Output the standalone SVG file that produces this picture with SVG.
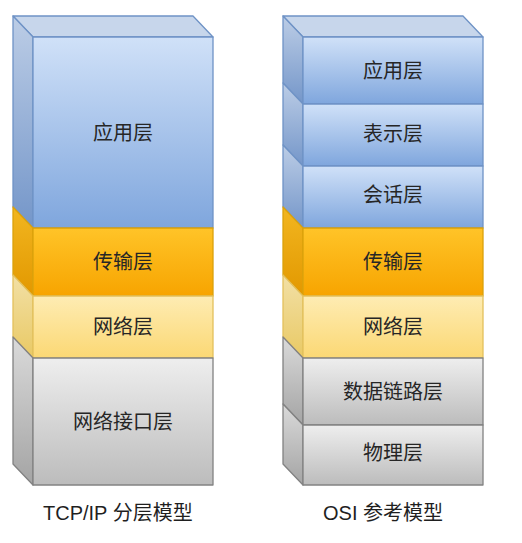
<svg xmlns="http://www.w3.org/2000/svg" width="522" height="543" viewBox="0 0 522 543">
<defs>
<linearGradient id="bF" x1="0" y1="0" x2="0" y2="1"><stop offset="0" stop-color="#d0e1f8"/><stop offset="1" stop-color="#7fa6dd"/></linearGradient>
<linearGradient id="bS" x1="0" y1="0" x2="0" y2="1"><stop offset="0" stop-color="#bccde6"/><stop offset="1" stop-color="#7496c9"/></linearGradient>
<linearGradient id="oF" x1="0" y1="0" x2="0" y2="1"><stop offset="0" stop-color="#ffc428"/><stop offset="1" stop-color="#f7a400"/></linearGradient>
<linearGradient id="oS" x1="0" y1="0" x2="0" y2="1"><stop offset="0" stop-color="#f2b620"/><stop offset="1" stop-color="#e29800"/></linearGradient>
<linearGradient id="yF" x1="0" y1="0" x2="0" y2="1"><stop offset="0" stop-color="#feecb3"/><stop offset="1" stop-color="#fbd874"/></linearGradient>
<linearGradient id="yS" x1="0" y1="0" x2="0" y2="1"><stop offset="0" stop-color="#f2e0a6"/><stop offset="1" stop-color="#e9c964"/></linearGradient>
<linearGradient id="gF" x1="0" y1="0" x2="0" y2="1"><stop offset="0" stop-color="#eeeeee"/><stop offset="1" stop-color="#bcbcbc"/></linearGradient>
<linearGradient id="gS" x1="0" y1="0" x2="0" y2="1"><stop offset="0" stop-color="#dadada"/><stop offset="1" stop-color="#a4a4a4"/></linearGradient>
</defs>
<style>
.b{stroke:#6f93c6;stroke-width:1.3;stroke-linejoin:round}
.o{stroke:#daa10c;stroke-width:1.3;stroke-linejoin:round}
.y{stroke:#e3c05c;stroke-width:1.3;stroke-linejoin:round}
.g{stroke:#828282;stroke-width:1.3;stroke-linejoin:round}
.bf{fill:url(#bF)}.bs{fill:url(#bS)}.bt{fill:#c7d6eb}
.of{fill:url(#oF)}.os{fill:url(#oS)}
.yf{fill:url(#yF)}.ys{fill:url(#yS)}
.gf{fill:url(#gF)}.gs{fill:url(#gS)}
text{font-family:"Liberation Sans","Noto Sans CJK SC",sans-serif;font-size:20px;fill:#262626;text-anchor:middle;dominant-baseline:central}
.cap{text-anchor:start;dominant-baseline:alphabetic;fill:#1f1f1f}
</style>

<g id="tcp-app">
<polygon class="b bt" points="13,16 193,16 213,37 33,37"/>
<polygon class="b bs" points="13,16 33,37 33,228 13,207"/>
<rect class="b bf" x="33" y="37" width="180" height="191"/>
<text x="123" y="133">应用层</text>
</g>
<g id="tcp-transport">
<polygon class="o os" points="13,207 33,228 33,296 13,275"/>
<rect class="o of" x="33" y="228" width="180" height="68"/>
<text x="123" y="262">传输层</text>
</g>
<g id="tcp-network">
<polygon class="y ys" points="13,275 33,296 33,358 13,337"/>
<rect class="y yf" x="33" y="296" width="180" height="62"/>
<text x="123" y="327">网络层</text>
</g>
<g id="tcp-link">
<polygon class="g gs" points="13,337 33,358 33,485 13,464"/>
<rect class="g gf" x="33" y="358" width="180" height="127"/>
<text x="123" y="422">网络接口层</text>
</g>

<g id="osi-app">
<polygon class="b bt" points="283,16 463,16 483,37 303,37"/>
<polygon class="b bs" points="283,16 303,37 303,104 283,83"/>
<rect class="b bf" x="303" y="37" width="180" height="67"/>
<text x="393" y="71">应用层</text>
</g>
<g id="osi-presentation">
<polygon class="b bs" points="283,83 303,104 303,166 283,145"/>
<rect class="b bf" x="303" y="104" width="180" height="62"/>
<text x="393" y="134">表示层</text>
</g>
<g id="osi-session">
<polygon class="b bs" points="283,145 303,166 303,228 283,207"/>
<rect class="b bf" x="303" y="166" width="180" height="62"/>
<text x="393" y="195">会话层</text>
</g>
<g id="osi-transport">
<polygon class="o os" points="283,207 303,228 303,296 283,275"/>
<rect class="o of" x="303" y="228" width="180" height="68"/>
<text x="393" y="262">传输层</text>
</g>
<g id="osi-network">
<polygon class="y ys" points="283,275 303,296 303,358 283,337"/>
<rect class="y yf" x="303" y="296" width="180" height="62"/>
<text x="393" y="327">网络层</text>
</g>
<g id="osi-datalink">
<polygon class="g gs" points="283,337 303,358 303,425 283,404"/>
<rect class="g gf" x="303" y="358" width="180" height="67"/>
<text x="393" y="392">数据链路层</text>
</g>
<g id="osi-physical">
<polygon class="g gs" points="283,404 303,425 303,485 283,464"/>
<rect class="g gf" x="303" y="425" width="180" height="60"/>
<text x="393" y="453">物理层</text>
</g>

<g id="connectors"></g>

<text class="cap" x="43" y="520">TCP/IP 分层模型</text>
<text class="cap" x="323" y="520">OSI 参考模型</text>
</svg>
